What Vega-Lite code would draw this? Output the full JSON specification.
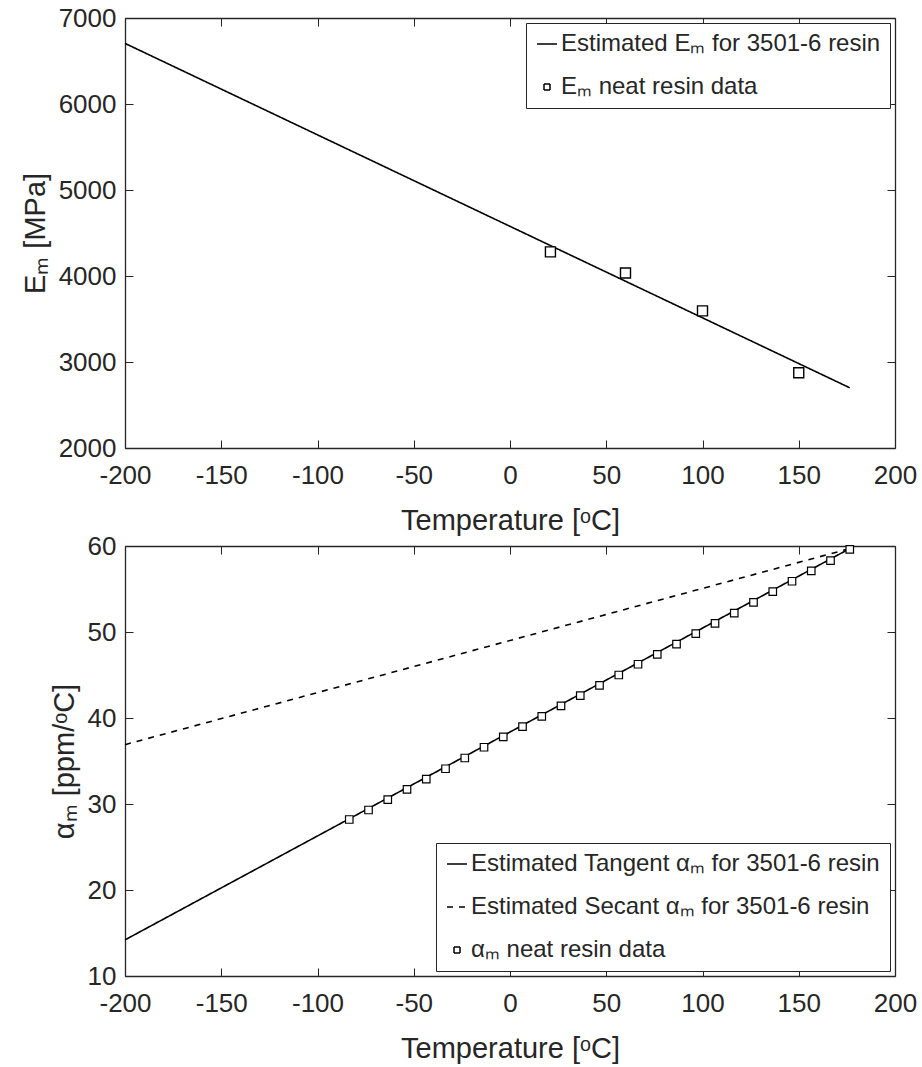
{
  "$schema": "https://vega.github.io/schema/vega-lite/v6.json",
  "background": "white",
  "padding": {"left": 21, "top": 5, "right": 5, "bottom": 2},
  "bounds": "flush",
  "spacing": 98,
  "config": {
    "font": "Liberation Sans",
    "view": {"stroke": null},
    "axis": {
      "grid": false,
      "domainColor": "#262626",
      "domainWidth": 1.3,
      "tickColor": "#262626",
      "tickWidth": 1,
      "tickSize": -8,
      "labelColor": "#262626",
      "labelFont": "Liberation Sans",
      "labelFontSize": 26,
      "labelFlush": false,
      "labelOverlap": false,
      "titleColor": "#262626",
      "titleFont": "Liberation Sans",
      "titleFontSize": 29,
      "titleFontWeight": "normal"
    },
    "axisX": {"labelPadding": 22, "titlePadding": 18},
    "axisY": {"labelPadding": 17, "titlePadding": 8},
    "legend": {
      "offset": 5,
      "padding": 9,
      "rowPadding": 19,
      "strokeColor": "#262626",
      "fillColor": "white",
      "labelFont": "Liberation Sans",
      "labelFontSize": 24,
      "labelColor": "#262626",
      "labelLimit": 700,
      "labelOffset": 2,
      "symbolSize": 400,
      "symbolStrokeColor": "black",
      "symbolFillColor": "white",
      "symbolStrokeWidth": 1.5,
      "title": null
    }
  },
  "resolve": {
    "scale": {"shape": "independent", "strokeDash": "independent"},
    "legend": {"shape": "independent", "strokeDash": "independent"}
  },
  "vconcat": [
    {
      "width": 770,
      "height": 430,
      "layer": [
        {
          "data": {"values": [
            {"T": -200, "E": 6705, "s1": "Estimated Eₘ for 3501-6 resin"},
            {"T": 176.5, "E": 2700, "s1": "Estimated Eₘ for 3501-6 resin"}
          ]},
          "mark": {"type": "line", "color": "black", "strokeWidth": 1.6},
          "encoding": {
            "x": {"field": "T", "type": "quantitative", "scale": {"domain": [-200, 200], "nice": false},
              "axis": {"orient": "bottom", "title": "Temperature [ᵒC]", "values": [-200, -150, -100, -50, 0, 50, 100, 150, 200], "labelExpr": "'' + datum.value"}},
            "y": {"field": "E", "type": "quantitative", "scale": {"domain": [2000, 7000], "nice": false, "zero": false},
              "axis": {"orient": "left", "title": "Eₘ [MPa]", "values": [2000, 3000, 4000, 5000, 6000, 7000], "labelExpr": "'' + datum.value"}},
            "strokeDash": {"field": "s1", "type": "nominal",
              "scale": {"domain": ["Estimated Eₘ for 3501-6 resin", "Eₘ neat resin data"], "range": [[1, 0], [1, 0]]},
              "legend": {"orient": "top-right",
                "encode": {"symbols": {"update": {"stroke": {"value": "black"}, "fill": {"value": "white"}, "strokeWidth": {"value": 1.5}, "opacity": {"value": 1}}}}}}
          }
        },
        {
          "data": {"values": [
            {"T": 21, "E": 4280, "s1": "Eₘ neat resin data"},
            {"T": 60, "E": 4035, "s1": "Eₘ neat resin data"},
            {"T": 100, "E": 3595, "s1": "Eₘ neat resin data"},
            {"T": 150, "E": 2875, "s1": "Eₘ neat resin data"}
          ]},
          "mark": {"type": "point", "filled": true, "color": "white", "stroke": "black", "strokeWidth": 1.4, "opacity": 1, "size": 1111},
          "encoding": {
            "x": {"field": "T", "type": "quantitative", "scale": {"domain": [-200, 200], "nice": false},
              "axis": {"orient": "top", "title": null, "labels": false, "values": [-200, -150, -100, -50, 0, 50, 100, 150, 200]}},
            "y": {"field": "E", "type": "quantitative", "scale": {"domain": [2000, 7000], "nice": false, "zero": false},
              "axis": {"orient": "right", "title": null, "labels": false, "values": [2000, 3000, 4000, 5000, 6000, 7000]}},
            "shape": {"field": "s1", "type": "nominal",
              "scale": {"domain": ["Estimated Eₘ for 3501-6 resin", "Eₘ neat resin data"], "range": ["stroke", "M-0.3,-0.3H0.3V0.3H-0.3Z"]},
              "legend": {"orient": "top-right",
                "encode": {"symbols": {"update": {"stroke": {"value": "black"}, "fill": {"value": "white"}, "strokeWidth": {"value": 1.5}, "opacity": {"value": 1}}}}}}
          }
        }
      ],
      "resolve": {"axis": {"x": "independent", "y": "independent"}}
    },
    {
      "width": 770,
      "height": 430,
      "layer": [
        {
          "data": {"values": [
            {"T": -200, "A": 14.2, "s2": "Estimated Tangent αₘ for 3501-6 resin"},
            {"T": 176.5, "A": 59.7, "s2": "Estimated Tangent αₘ for 3501-6 resin"},
            {"T": -200, "A": 36.9, "s2": "Estimated Secant αₘ for 3501-6 resin"},
            {"T": 176.5, "A": 59.7, "s2": "Estimated Secant αₘ for 3501-6 resin"}
          ]},
          "mark": {"type": "line", "color": "black", "strokeWidth": 1.6},
          "encoding": {
            "x": {"field": "T", "type": "quantitative", "scale": {"domain": [-200, 200], "nice": false},
              "axis": {"orient": "bottom", "title": "Temperature [ᵒC]", "values": [-200, -150, -100, -50, 0, 50, 100, 150, 200], "labelExpr": "'' + datum.value"}},
            "y": {"field": "A", "type": "quantitative", "scale": {"domain": [10, 60], "nice": false, "zero": false},
              "axis": {"orient": "left", "title": "αₘ [ppm/ᵒC]", "values": [10, 20, 30, 40, 50, 60], "labelExpr": "'' + datum.value"}},
            "strokeDash": {"field": "s2", "type": "nominal",
              "scale": {"domain": ["Estimated Tangent αₘ for 3501-6 resin", "Estimated Secant αₘ for 3501-6 resin", "αₘ neat resin data"], "range": [[1, 0], [6, 6], [1, 0]]},
              "legend": {"orient": "bottom-right",
                "encode": {"symbols": {"update": {"stroke": {"value": "black"}, "fill": {"value": "white"}, "strokeWidth": {"value": 1.5}, "opacity": {"value": 1}}}}}}
          }
        },
        {
          "data": {"values": [
            {"T": -83.5, "A": 28.2, "s2": "αₘ neat resin data"},
            {"T": -73.5, "A": 29.3, "s2": "αₘ neat resin data"},
            {"T": -63.5, "A": 30.5, "s2": "αₘ neat resin data"},
            {"T": -53.5, "A": 31.7, "s2": "αₘ neat resin data"},
            {"T": -43.5, "A": 32.9, "s2": "αₘ neat resin data"},
            {"T": -33.5, "A": 34.1, "s2": "αₘ neat resin data"},
            {"T": -23.5, "A": 35.35, "s2": "αₘ neat resin data"},
            {"T": -13.5, "A": 36.6, "s2": "αₘ neat resin data"},
            {"T": -3.5, "A": 37.8, "s2": "αₘ neat resin data"},
            {"T": 6.5, "A": 39.0, "s2": "αₘ neat resin data"},
            {"T": 16.5, "A": 40.2, "s2": "αₘ neat resin data"},
            {"T": 26.5, "A": 41.4, "s2": "αₘ neat resin data"},
            {"T": 36.5, "A": 42.6, "s2": "αₘ neat resin data"},
            {"T": 46.5, "A": 43.8, "s2": "αₘ neat resin data"},
            {"T": 56.5, "A": 45.0, "s2": "αₘ neat resin data"},
            {"T": 66.5, "A": 46.25, "s2": "αₘ neat resin data"},
            {"T": 76.5, "A": 47.4, "s2": "αₘ neat resin data"},
            {"T": 86.5, "A": 48.6, "s2": "αₘ neat resin data"},
            {"T": 96.5, "A": 49.8, "s2": "αₘ neat resin data"},
            {"T": 106.5, "A": 51.0, "s2": "αₘ neat resin data"},
            {"T": 116.5, "A": 52.2, "s2": "αₘ neat resin data"},
            {"T": 126.5, "A": 53.45, "s2": "αₘ neat resin data"},
            {"T": 136.5, "A": 54.7, "s2": "αₘ neat resin data"},
            {"T": 146.5, "A": 55.9, "s2": "αₘ neat resin data"},
            {"T": 156.5, "A": 57.1, "s2": "αₘ neat resin data"},
            {"T": 166.5, "A": 58.3, "s2": "αₘ neat resin data"},
            {"T": 176.5, "A": 59.6, "s2": "αₘ neat resin data"}
          ]},
          "mark": {"type": "point", "filled": true, "color": "white", "stroke": "black", "strokeWidth": 1.2, "opacity": 1, "size": 625},
          "encoding": {
            "x": {"field": "T", "type": "quantitative", "scale": {"domain": [-200, 200], "nice": false},
              "axis": {"orient": "top", "title": null, "labels": false, "values": [-200, -150, -100, -50, 0, 50, 100, 150, 200]}},
            "y": {"field": "A", "type": "quantitative", "scale": {"domain": [10, 60], "nice": false, "zero": false},
              "axis": {"orient": "right", "title": null, "labels": false, "values": [10, 20, 30, 40, 50, 60]}},
            "shape": {"field": "s2", "type": "nominal",
              "scale": {"domain": ["Estimated Tangent αₘ for 3501-6 resin", "Estimated Secant αₘ for 3501-6 resin", "αₘ neat resin data"], "range": ["stroke", "stroke", "M-0.3,-0.3H0.3V0.3H-0.3Z"]},
              "legend": {"orient": "bottom-right",
                "encode": {"symbols": {"update": {"stroke": {"value": "black"}, "fill": {"value": "white"}, "strokeWidth": {"value": 1.5}, "opacity": {"value": 1}}}}}}
          }
        }
      ],
      "resolve": {"axis": {"x": "independent", "y": "independent"}}
    }
  ]
}
